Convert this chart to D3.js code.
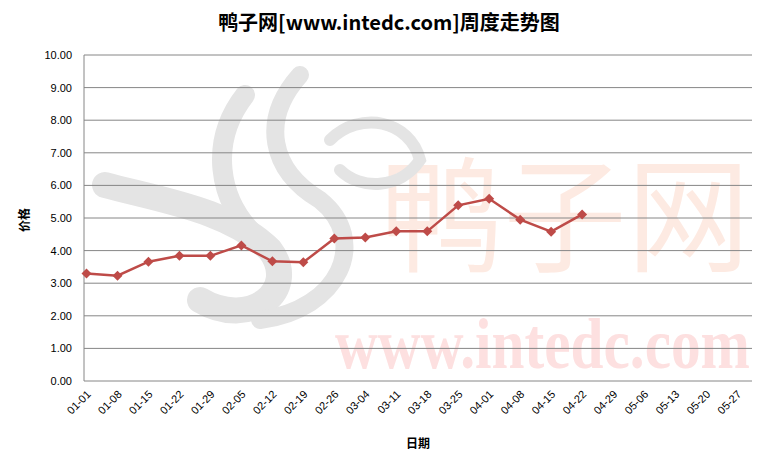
<!DOCTYPE html>
<html><head><meta charset="utf-8">
<script src="https://cdn.jsdelivr.net/npm/d3@7"></script>
<style>body{margin:0;background:#fff}</style></head>
<body><svg id="c" width="778" height="465"></svg>
<script>
const categories=["01-01","01-08","01-15","01-22","01-29","02-05","02-12","02-19","02-26","03-04","03-11","03-18","03-25","04-01","04-08","04-15","04-22","04-29","05-06","05-13","05-20","05-27"];
const prices=[3.30,3.23,3.66,3.84,3.84,4.16,3.67,3.64,4.37,4.40,4.59,4.59,5.39,5.59,4.95,4.58,5.11];
const yTicks=[0,1,2,3,4,5,6,7,8,9,10];
const svg=d3.select("#c");
const L=84,R=752,T=55,B=381;
const x=d3.scalePoint().domain(categories).range([86.5,737]);
const y=d3.scaleLinear().domain([0,10]).range([B,T]);
const wm=svg.append("g");
wm.append("text").attr("x",335).attr("y",368).attr("textLength",415).attr("lengthAdjust","spacingAndGlyphs").attr("font-family","Liberation Serif").attr("font-size",72).attr("font-weight","bold").attr("fill","#fde0e0").text("www.intedc.com");
wm.append("text").attr("x",380).attr("y",262).attr("textLength",370).attr("lengthAdjust","spacingAndGlyphs").attr("font-family","Noto Sans CJK SC").attr("font-size",125).attr("fill","#fdeae2").text("鸭子网");
const g=wm.append("g").attr("fill","none").attr("stroke","#e4e4e4").attr("stroke-linecap","round");
g.append("path").attr("d","M105,185 C160,200 230,210 270,250 C300,290 250,330 200,300").attr("stroke-width",26);
g.append("path").attr("d","M245,95 C210,140 215,200 260,240").attr("stroke-width",20);
g.append("path").attr("d","M300,75 C260,120 270,170 320,200 C370,240 340,310 260,320").attr("stroke-width",18);
g.append("path").attr("d","M330,140 C360,110 410,120 420,160 C400,190 360,190 340,170").attr("stroke-width",12);
svg.append("g").selectAll("line").data(yTicks).join("line")
 .attr("x1",L).attr("x2",R).attr("y1",d=>y(d)).attr("y2",d=>y(d)).attr("stroke","#868686").attr("stroke-width",1);
svg.append("line").attr("x1",L).attr("x2",L).attr("y1",T).attr("y2",B).attr("stroke","#868686");
svg.append("g").selectAll("text").data(yTicks).join("text")
 .attr("x",L-12).attr("y",d=>y(d)+4).attr("text-anchor","end").attr("font-family","Liberation Sans").attr("font-size",11).text(d=>d.toFixed(2));
svg.append("g").selectAll("text").data(categories).join("text")
 .attr("transform",d=>`translate(${x(d)+5},${B+14}) rotate(-45)`).attr("text-anchor","end")
 .attr("font-family","Liberation Sans").attr("font-size",11).text(d=>d);
const pts=prices.map((v,i)=>[x(categories[i]),y(v)]);
svg.append("path").attr("d",d3.line()(pts)).attr("fill","none").attr("stroke","#be4b48").attr("stroke-width",2.5);
svg.append("g").selectAll("path").data(pts).join("path")
 .attr("transform",d=>`translate(${d[0]},${d[1]})`).attr("d","M0,-5L5,0L0,5L-5,0Z").attr("fill","#be4b48");
svg.append("text").attr("x",389).attr("y",30).attr("text-anchor","middle").attr("font-family","Noto Sans CJK SC").attr("font-weight","bold").attr("font-size",20).text("鸭子网[www.intedc.com]周度走势图");
svg.append("text").attr("transform","translate(29,220) rotate(-90)").attr("text-anchor","middle").attr("font-family","Noto Sans CJK SC").attr("font-weight","bold").attr("font-size",12).text("价格");
svg.append("text").attr("x",418).attr("y",448).attr("text-anchor","middle").attr("font-family","Noto Sans CJK SC").attr("font-weight","bold").attr("font-size",12).text("日期");
</script></body></html>
